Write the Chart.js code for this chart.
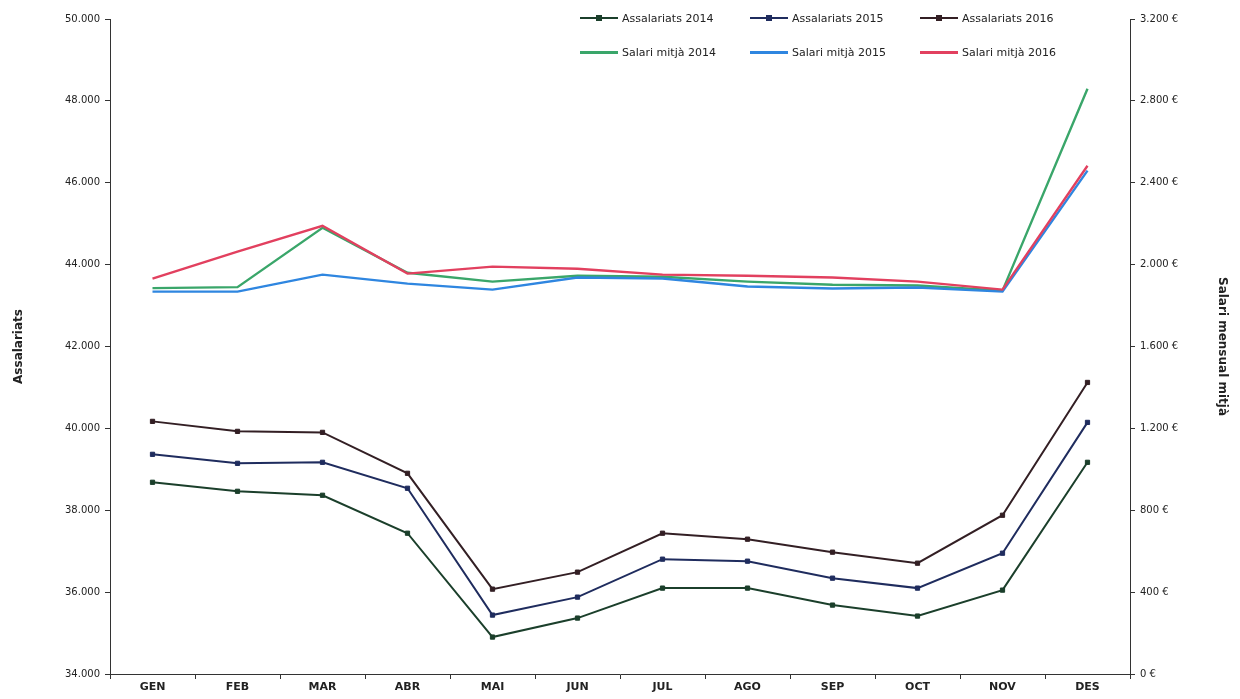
<!DOCTYPE html>
<html>
<head>
<meta charset="utf-8">
<script src="https://cdn.jsdelivr.net/npm/chart.js@4/dist/chart.umd.min.js"></script>
<style>
  html, body { margin: 0; padding: 0; background: #fff; }
  #wrap { position: relative; width: 1240px; height: 699px; }
  canvas { display: block; }
  #legend { position: absolute; left: 580px; top: 10px; display: grid;
    grid-template-columns: 170px 170px 170px; row-gap: 18px;
    font-family: "DejaVu Sans", sans-serif; font-size: 11px; color: #222; }
  .item { display: flex; align-items: center; white-space: nowrap; height: 16px; }
  .sample { position: relative; width: 38px; height: 0; margin-right: 4px; }
  .sample .ln { position: absolute; left: 0; right: 0; top: -1px; }
  .sample .mk { position: absolute; left: 16px; top: -3px; width: 6px; height: 6px; }
</style>
</head>
<body>
<div id="wrap">
  <canvas id="c" width="1240" height="699"></canvas>
  <div id="legend"></div>
</div>
<script>
const months = ['GEN','FEB','MAR','ABR','MAI','JUN','JUL','AGO','SEP','OCT','NOV','DES'];

const empLabels = ['Assalariats 2014','Assalariats 2015','Assalariats 2016'];
const salLabels = ['Salari mitjà 2014','Salari mitjà 2015','Salari mitjà 2016'];

const emp2014 = [38683, 38463, 38366, 37439, 34902, 35366, 36098, 36098, 35683, 35415, 36049, 39171];
const emp2015 = [39366, 39146, 39171, 38537, 35439, 35878, 36805, 36756, 36341, 36098, 36951, 40146];
const emp2016 = [40171, 39927, 39902, 38902, 36073, 36488, 37439, 37293, 36976, 36707, 37878, 41122];

const sal2014 = [1885, 1890, 2180, 1960, 1917, 1946, 1941, 1917, 1902, 1898, 1873, 2859];
const sal2015 = [1868, 1868, 1951, 1907, 1878, 1937, 1932, 1893, 1883, 1888, 1868, 2459];
const sal2016 = [1932, 2063, 2190, 1956, 1990, 1980, 1951, 1946, 1937, 1917, 1878, 2483];

const empTicks = [34000, 50000, 2000];
const salTicks = [0, 3200, 400];

const empColors = ['#1b3f2b', '#1f2c5e', '#331f24'];
const salColors = ['#3aa66a', '#2f86e0', '#e2405f'];

const empData = [emp2014, emp2015, emp2016];
const salData = [sal2014, sal2015, sal2016];

function fmt(v) { return String(v).replace(/\B(?=(\d{3})+(?!\d))/g, '.'); }

const datasets = [];
empData.forEach((d, i) => datasets.push({
  label: empLabels[i], data: d, yAxisID: 'y', borderColor: empColors[i],
  backgroundColor: empColors[i], borderWidth: 2, pointStyle: 'rect',
  pointRadius: 3, pointBorderWidth: 1, tension: 0, order: 2
}));
salData.forEach((d, i) => datasets.push({
  label: salLabels[i], data: d, yAxisID: 'y1', borderColor: salColors[i],
  backgroundColor: salColors[i], borderWidth: 2.4, pointRadius: 0, tension: 0, order: 1 - i * 0.1
}));

const tickFont = { family: 'DejaVu Sans', size: 10 };
new Chart(document.getElementById('c'), {
  type: 'line',
  data: { labels: months, datasets },
  options: {
    responsive: false, animation: false, devicePixelRatio: 1,
    layout: { padding: { top: 19, right: 0, left: 0, bottom: 0 } },
    plugins: { legend: { display: false }, tooltip: { enabled: false } },
    scales: {
      x: {
        offset: true,
        grid: { display: true, drawOnChartArea: false, offset: true, color: '#333', tickLength: 5 },
        border: { color: '#333', width: 1 },
        ticks: { color: '#222', font: { family: 'DejaVu Sans', size: 11, weight: 'bold' }, padding: 2, maxRotation: 0 },
        afterFit: s => { s.height = 25; }
      },
      y: {
        position: 'left', min: empTicks[0], max: empTicks[1],
        grid: { drawOnChartArea: false, color: '#333', tickLength: 5 },
        border: { color: '#333', width: 1 },
        ticks: { stepSize: empTicks[2], color: '#222', font: tickFont, padding: 5, callback: v => fmt(v) },
        title: { display: true, text: 'Assalariats', color: '#222', font: { family: 'DejaVu Sans', size: 12, weight: 'bold' }, padding: { top: 12, bottom: 0 } },
        afterFit: s => { s.width = 110; }
      },
      y1: {
        position: 'right', min: salTicks[0], max: salTicks[1],
        grid: { drawOnChartArea: false, color: '#333', tickLength: 5 },
        border: { color: '#333', width: 1 },
        ticks: { stepSize: salTicks[2], color: '#222', font: tickFont, padding: 5, callback: v => fmt(v) + ' €' },
        title: { display: true, text: 'Salari mensual mitjà', color: '#222', font: { family: 'DejaVu Sans', size: 12, weight: 'bold' }, padding: { top: 11, bottom: 0 } },
        afterFit: s => { s.width = 110; }
      }
    }
  }
});

// HTML legend built from the label arrays
const legend = document.getElementById('legend');
function addItem(label, color, marker, thick) {
  const it = document.createElement('div'); it.className = 'item';
  const sm = document.createElement('span'); sm.className = 'sample';
  const ln = document.createElement('span'); ln.className = 'ln';
  ln.style.borderTop = thick + 'px solid ' + color;
  sm.appendChild(ln);
  if (marker) { const mk = document.createElement('span'); mk.className = 'mk'; mk.style.background = color; sm.appendChild(mk); }
  it.appendChild(sm);
  const t = document.createElement('span'); t.textContent = label; it.appendChild(t);
  legend.appendChild(it);
}
empLabels.forEach((l, i) => addItem(l, empColors[i], true, 2));
salLabels.forEach((l, i) => addItem(l, salColors[i], false, 3));
</script>
</body>
</html>
